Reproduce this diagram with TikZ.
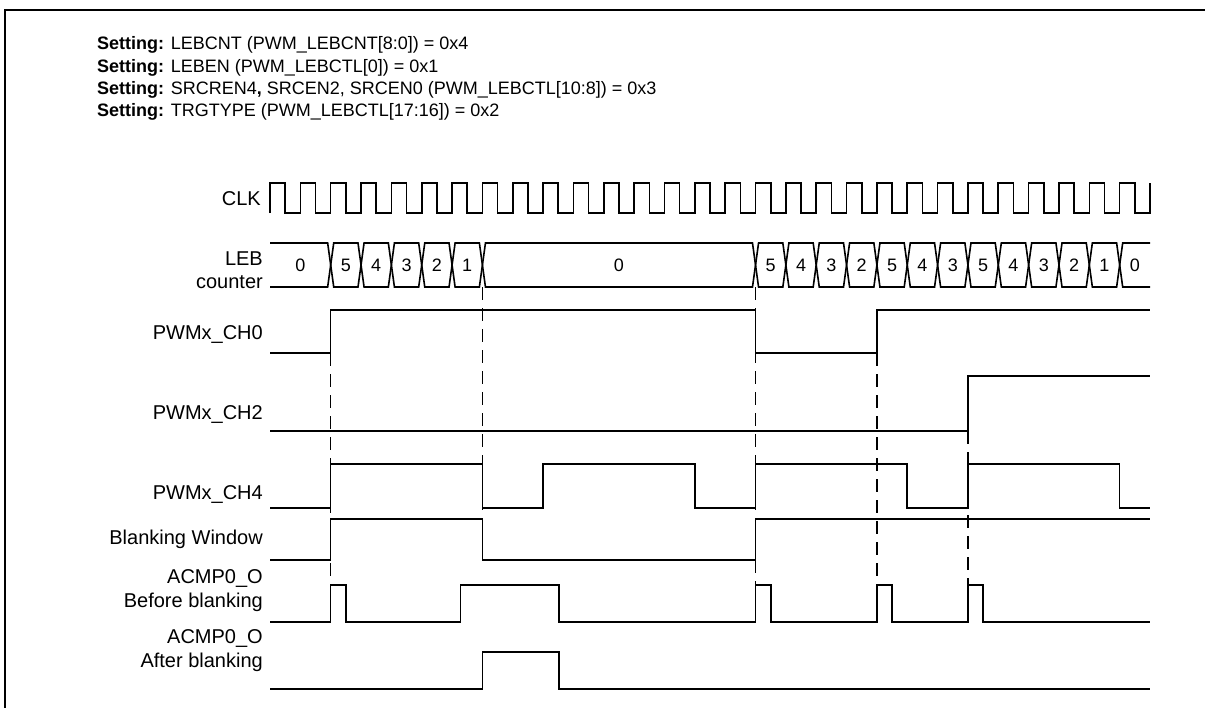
\documentclass[tikz,border=0pt]{standalone}
\usepackage{fontspec}
\setmainfont{Liberation Sans}
\usetikzlibrary{positioning, calc}
\tikzset{
	sig/.style={line width=1.6pt, line join=miter},
	guide/.style={line width=1.4pt, dash pattern=on 13pt off 8pt},
	lbl/.style={anchor=base east, inner sep=0pt, font=\fontsize{20}{24}\selectfont},
	ttl/.style={anchor=base west, inner sep=0pt, font=\fontsize{18}{22}\selectfont},
	digit/.style={inner sep=0pt, font=\fontsize{18}{22}\selectfont}
}

\begin{document}
\begin{tikzpicture}[x=1pt,y=-1pt]
	\useasboundingbox (0,0) rectangle (1205,707);
	\draw[line width=2.2pt] (5,720) -- (5,10) -- (1220,10);

	\node[ttl] (set1) at (97,49.5) {\textbf{Setting:} LEBCNT (PWM\_LEBCNT[8:0]) = 0x4};
	\node[ttl] (set2) at (97,72.5) {\textbf{Setting:} LEBEN (PWM\_LEBCTL[0]) = 0x1};
	\node[ttl] (set3) at (97,94.5) {\textbf{Setting:} SRCREN4\textbf{,} SRCEN2, SRCEN0 (PWM\_LEBCTL[10:8]) = 0x3};
	\node[ttl] (set4) at (97,116.5) {\textbf{Setting:} TRGTYPE (PWM\_LEBCTL[17:16]) = 0x2};

	\node[lbl] (clk) at (261,205) {CLK};
	\node[lbl] (leb) at (263,265) {LEB};
	\node[lbl] (cnt) at (263,288) {counter};
	\node[lbl] (ch0) at (263,339) {PWMx\_CH0};
	\node[lbl] (ch2) at (263,419) {PWMx\_CH2};
	\node[lbl] (ch4) at (263,499) {PWMx\_CH4};
	\node[lbl] (blank) at (263,544) {Blanking Window};
	\node[lbl] (acmpa) at (263,583) {ACMP0\_O};
	\node[lbl] (before) at (263,607) {Before blanking};
	\node[lbl] (acmpb) at (263,643) {ACMP0\_O};
	\node[lbl] (after) at (263,667) {After blanking};

	\begin{scope}[x=30.345pt, xshift=270pt]
		\draw[guide] (2,353) -- (2,585);
		\draw[guide] (7,287) -- (7,519);
		\draw[guide] (16,287) -- (16,585);
		\draw[guide] (20,353) -- (20,585);
		\draw[guide] (23,431) -- (23,585);

		\draw[sig] (0,213) \foreach \k in {0,...,28} { -- (\k,183) -- (\k+.5,183) -- (\k+.5,213) -- (\k+1,213) } -- (29,183);

		\draw[sig] (0,243) -- (1.9,243) -- (2,265) -- (1.9,287) -- (0,287);
		\node[digit] (c0) at (1,265) {0};
		\foreach \ka/\kb/\val in {2/3/5, 3/4/4, 4/5/3, 5/6/2, 6/7/1, 7/16/0, 16/17/5, 17/18/4, 18/19/3, 19/20/2,
			20/21/5, 21/22/4, 22/23/3, 23/24/5, 24/25/4, 25/26/3, 26/27/2, 27/28/1} {
			\draw[sig] (\ka+.1,243) -- (\kb-.1,243) -- (\kb,265) -- (\kb-.1,287) -- (\ka+.1,287) -- (\ka,265) -- cycle;
			\node[digit] (c\ka) at ({(\ka+\kb)/2},265) {\val};
		}
		\draw[sig] (29,243) -- (28.1,243) -- (28,265) -- (28.1,287) -- (29,287);
		\node[digit] (c28) at (28.5,265) {0};

		\draw[sig] (0,353) -- (2,353) -- (2,310) -- (16,310) -- (16,353) -- (20,353) -- (20,310) -- (29,310);
		\draw[sig] (0,431) -- (23,431) -- (23,376) -- (29,376);
		\draw[sig] (0,508) -- (2,508) -- (2,464) -- (7,464) -- (7,508) -- (9,508) -- (9,464) -- (14,464) -- (14,508)
			-- (16,508) -- (16,464) -- (21,464) -- (21,508) -- (23,508) -- (23,464) -- (28,464) -- (28,508) -- (29,508);
		\draw[sig] (0,560) -- (2,560) -- (2,519) -- (7,519) -- (7,560) -- (16,560) -- (16,519) -- (29,519);
		\draw[sig] (0,622) -- (2,622) -- (2,585) -- (2.5,585) -- (2.5,622) -- (6.28,622) -- (6.28,585) -- (9.53,585)
			-- (9.53,622) -- (16,622) -- (16,585) -- (16.5,585) -- (16.5,622) -- (20,622) -- (20,585) -- (20.5,585)
			-- (20.5,622) -- (23,622) -- (23,585) -- (23.5,585) -- (23.5,622) -- (29,622);
		\draw[sig] (0,689) -- (7,689) -- (7,652) -- (9.53,652) -- (9.53,689) -- (29,689);
	\end{scope}
\end{tikzpicture}
\end{document}
